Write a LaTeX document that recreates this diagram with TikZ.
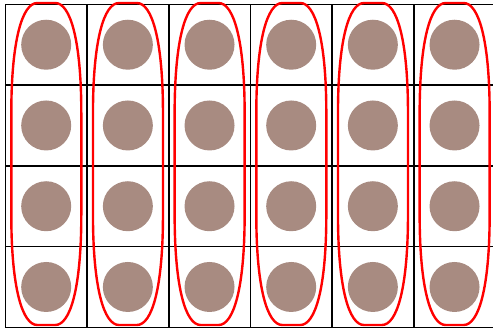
\documentclass[tikz,border=0pt]{standalone}
\usetikzlibrary{positioning}
\definecolor{dotbrown}{RGB}{168,139,129}
\begin{document}
\begin{tikzpicture}[x=1pt,y=-1pt,
    cell/.style={draw=black, line width=1.7pt, minimum width=81.67pt, minimum height=80.75pt, inner sep=0pt, anchor=north west},
    dot/.style={circle, fill=dotbrown, minimum size=50pt, inner sep=0pt},
    band/.style={draw=red, line width=2.4pt}]
    \useasboundingbox (0,0) rectangle (493,330);
    % grid of cells with one dot each
    \foreach \i in {1,...,6}{
      \foreach \j in {1,...,4}{
        \node[cell] (cell-\i-\j) at ({4.5+81.67*(\i-1)},{3.5+80.75*(\j-1)}) {};
        \node[dot] (dot-\i-\j) at (cell-\i-\j.center) {};
      }
    }
    % red bands round each column
    \foreach \i in {1,...,6}{
      \pgfmathsetmacro{\cx}{46.3+81.67*(\i-1)}
      \draw[band] (\cx-9,3) -- (\cx+9,3)
        .. controls (\cx+24,3) and (\cx+35,40) .. (\cx+35,113) -- (\cx+35,215)
        .. controls (\cx+35,288) and (\cx+24,325) .. (\cx+9,325) -- (\cx-9,325)
        .. controls (\cx-24,325) and (\cx-35,288) .. (\cx-35,215) -- (\cx-35,113)
        .. controls (\cx-35,40) and (\cx-24,3) .. cycle;
    }
\end{tikzpicture}
\end{document}
